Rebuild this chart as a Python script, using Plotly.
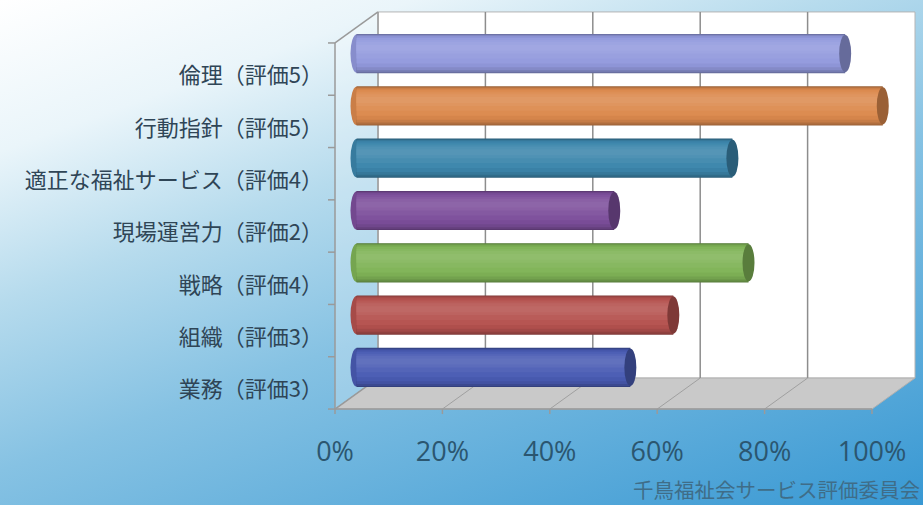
import base64
import plotly.graph_objects as go

# ---------------- data ----------------
CATEGORIES = ["業務（評価3）", "組織（評価3）", "戦略（評価4）", "現場運営力（評価2）",
              "適正な福祉サービス（評価4）", "行動指針（評価5）", "倫理（評価5）"]
VALUES = [51, 59, 73, 48, 70, 98, 91]
COLORS = ["#4a5cb4", "#b5524f", "#80b457", "#7d4f9c", "#3c86ac", "#dc8a4e", "#939ade"]
X_TICKS = [0, 20, 40, 60, 80, 100]
X_TICK_LABELS = ["0%", "20%", "40%", "60%", "80%", "100%"]
SOURCE = "千鳥福祉会サービス評価委員会"

# ---------------- geometry (pixels) ----------------
W, H = 923, 505
PL, PR, PT, PB = 318, 916, 6, 420          # plot area
X0PIX, KX = 356.5, 5.37                    # mid-depth 0% pixel, px per %
Y0PIX, KY = 367.4, 52.3                    # centre of first category, px per category
DX = 21.5 / KX                             # half depth (x units)
DY = 15.5 / KY                             # half depth (y units)
BAR_W = 0.75
RX = 6.0 / KX

xr = [(PL - X0PIX) / KX, (PR - X0PIX) / KX]
yr = [(Y0PIX - PB) / KY, (Y0PIX - PT) / KY]
pos = list(range(len(CATEGORIES)))
YB, YT = -0.5, len(CATEGORIES) - 0.5


def shade(hexc, f):
    r, g, b = int(hexc[1:3], 16), int(hexc[3:5], 16), int(hexc[5:7], 16)
    if f >= 0:
        r, g, b = [int(c + (255 - c) * f) for c in (r, g, b)]
    else:
        r, g, b = [int(c * (1 + f)) for c in (r, g, b)]
    return "#%02x%02x%02x" % (r, g, b)


def px_to_paper_x(p):
    return (p - PL) / (PR - PL)


def px_to_paper_y(p):
    return (PB - p) / (PB - PT)


# ---------------- background gradient ----------------
svg = f'''<svg xmlns="http://www.w3.org/2000/svg" width="{W}" height="{H}" viewBox="0 0 {W} {H}" preserveAspectRatio="none">
<defs><linearGradient id="g" x1="0" y1="0" x2="271" y2="743" gradientUnits="userSpaceOnUse">
<stop offset="0" stop-color="#ffffff"/><stop offset="0.18" stop-color="#eaf5fa"/>
<stop offset="0.36" stop-color="#b6dbed"/><stop offset="0.56" stop-color="#86c2e3"/>
<stop offset="1" stop-color="#3898d3"/></linearGradient></defs>
<rect x="0" y="0" width="{W}" height="{H}" fill="url(#g)"/></svg>'''
bg_uri = "data:image/svg+xml;base64," + base64.b64encode(svg.encode()).decode()

fig = go.Figure()

# ---------------- cylinder bars (layered bands) ----------------
BANDS = [(-1.0, 1.0, -0.3), (-0.95, 0.97, -0.2), (-0.85, 0.93, -0.1),
         (-0.7, 0.88, -0.03), (-0.5, 0.8, 0.02), (-0.25, 0.7, 0.06),
         (0.0, 0.6, 0.1), (0.15, 0.45, 0.13)]
for lo, hi, f in BANDS:
    fig.add_trace(go.Bar(
        orientation="h", x=VALUES, y=pos,
        width=(hi - lo) * BAR_W / 2, offset=lo * BAR_W / 2,
        marker=dict(color=[shade(c, f) for c in COLORS], line=dict(width=0)),
        hoverinfo="skip", showlegend=False))

# dummy traces to anchor label axes
fig.add_trace(go.Scatter(x=[None], y=[None], xaxis="x2", yaxis="y", showlegend=False, hoverinfo="skip"))
fig.add_trace(go.Scatter(x=[None], y=[None], xaxis="x", yaxis="y2", showlegend=False, hoverinfo="skip"))

# ---------------- frame shapes ----------------
shapes = []
GRID = "#8d8d8d"
EDGE = "#9a9a9a"
# back wall
shapes.append(dict(type="rect", xref="x", yref="y", x0=DX, x1=100 + DX, y0=YB + DY, y1=YT + DY,
                   fillcolor="#ffffff", line=dict(color="#b5b5b5", width=1), layer="below"))
# left wall
shapes.append(dict(type="path", xref="x", yref="y",
                   path=f"M {-DX},{YB-DY} L {-DX},{YT-DY} L {DX},{YT+DY} L {DX},{YB+DY} Z",
                   fillcolor="rgba(255,255,255,0.25)", line=dict(width=0), layer="below"))
# floor
shapes.append(dict(type="path", xref="x", yref="y",
                   path=f"M {-DX},{YB-DY} L {100-DX},{YB-DY} L {100+DX},{YB+DY} L {DX},{YB+DY} Z",
                   fillcolor="#c9c9c9", line=dict(color="#b0b0b0", width=1), layer="below"))
# back wall grid + floor grid
for v in X_TICKS[1:-1]:
    shapes.append(dict(type="line", xref="x", yref="y", x0=v + DX, x1=v + DX, y0=YB + DY, y1=YT + DY,
                       line=dict(color=GRID, width=1.5), layer="below"))
    shapes.append(dict(type="line", xref="x", yref="y", x0=v - DX, x1=v + DX, y0=YB - DY, y1=YB + DY,
                       line=dict(color="#a0a0a0", width=1), layer="below"))
# edges
for (xa, ya, xb, yb) in [(-DX, YB - DY, -DX, YT - DY), (DX, YB + DY, DX, YT + DY),
                         (-DX, YT - DY, DX, YT + DY), (-DX, YB - DY, DX, YB + DY),
                         (-DX, YB - DY, 100 - DX, YB - DY)]:
    shapes.append(dict(type="line", xref="x", yref="y", x0=xa, y0=ya, x1=xb, y1=yb,
                       line=dict(color=EDGE, width=1.5), layer="below"))
# tick marks
for k in range(len(CATEGORIES) + 1):
    yk = YB + k - DY
    shapes.append(dict(type="line", xref="x", yref="y", x0=-DX - 7 / KX, x1=-DX, y0=yk, y1=yk,
                       line=dict(color=EDGE, width=1.5), layer="below"))
for v in X_TICKS:
    shapes.append(dict(type="line", xref="x", yref="y", x0=v - DX, x1=v - DX, y0=YB - DY,
                       y1=YB - DY - 5 / KY, line=dict(color=EDGE, width=1.5), layer="below"))
# rounded left ends (under bars) and darker right caps (above bars)
for p, v, c in zip(pos, VALUES, COLORS):
    shapes.append(dict(type="circle", xref="x", yref="y", x0=-RX, x1=RX,
                       y0=p - BAR_W / 2 + 0.01, y1=p + BAR_W / 2 - 0.01,
                       fillcolor=shade(c, -0.08), line=dict(width=0), layer="below"))
for p, v, c in zip(pos, VALUES, COLORS):
    shapes.append(dict(type="circle", xref="x", yref="y", x0=v - RX, x1=v + RX,
                       y0=p - BAR_W / 2 + 0.02, y1=p + BAR_W / 2 - 0.02,
                       fillcolor=shade(c, -0.3), line=dict(width=0), layer="above"))

LABEL_SHIFT = 22 / KY
fig.update_layout(
    width=W, height=H,
    margin=dict(l=PL, r=W - PR, t=PT, b=H - PB, pad=0),
    paper_bgcolor="#ffffff", plot_bgcolor="rgba(0,0,0,0)",
    barmode="overlay", showlegend=False, hovermode=False,
    shapes=shapes,
    images=[dict(source=bg_uri, xref="paper", yref="paper",
                 x=px_to_paper_x(0), y=px_to_paper_y(0),
                 sizex=W / (PR - PL), sizey=H / (PB - PT),
                 sizing="stretch", xanchor="left", yanchor="top", layer="below")],
    xaxis=dict(range=xr, visible=False, fixedrange=True),
    yaxis=dict(range=yr, visible=False, fixedrange=True),
    xaxis2=dict(range=[xr[0] + DX, xr[1] + DX], overlaying="x", anchor="y", side="bottom",
                tickmode="array", tickvals=X_TICKS, ticktext=X_TICK_LABELS,
                showgrid=False, zeroline=False, showline=False, ticks="",
                ticklabelstandoff=13,
                tickfont=dict(family="Open Sans, Noto Sans", size=27, color="#2b5670")),
    yaxis2=dict(range=[yr[0] + LABEL_SHIFT, yr[1] + LABEL_SHIFT], overlaying="y", anchor="x", side="left",
                tickmode="array", tickvals=pos, ticktext=CATEGORIES,
                showgrid=False, zeroline=False, showline=False, ticks="",
                ticklabelstandoff=-6,
                tickfont=dict(family="Noto Sans CJK JP", size=22, color="#2f4556")),
    annotations=[dict(text=SOURCE, xref="paper", yref="paper",
                      x=px_to_paper_x(922), y=px_to_paper_y(489),
                      xanchor="right", yanchor="middle", showarrow=False,
                      font=dict(family="Noto Sans CJK JP", size=20.5, color="#3f6d88"))],
)

fig.write_html("out.html")
